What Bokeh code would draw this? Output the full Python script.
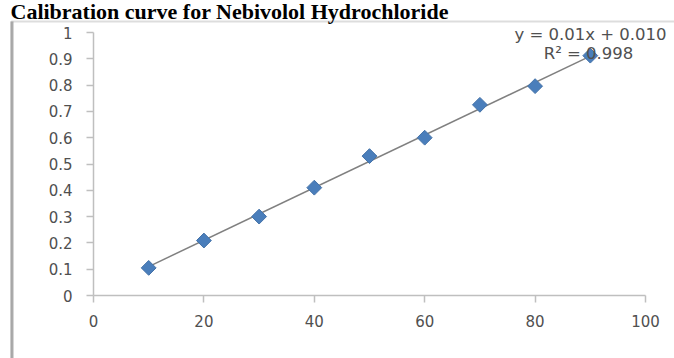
import numpy as np
from bokeh.plotting import figure
from bokeh.models import Range1d, FixedTicker, Label, BoxAnnotation, ColumnDataSource
from bokeh.embed import file_html
from bokeh.resources import INLINE

# ---- data ----
concentration = [10, 20, 30, 40, 50, 60, 70, 80, 90]
absorbance = [0.105, 0.209, 0.30, 0.41, 0.53, 0.60, 0.725, 0.796, 0.912]
trend_slope = 0.01
trend_intercept = 0.010
equation_text = "y = 0.01x + 0.010"
r2_text = "R\u00b2 = 0.998"
title_text = "Calibration curve for Nebivolol Hydrochloride"
x_ticks = [0, 20, 40, 60, 80, 100]
y_ticks = [0, 0.1, 0.2, 0.3, 0.4, 0.5, 0.6, 0.7, 0.8, 0.9, 1.0]
y_tick_labels = ["0", "0.1", "0.2", "0.3", "0.4", "0.5", "0.6", "0.7", "0.8", "0.9", "1"]

# ---- layout (pixels) ----
W, H = 674, 358
PX_X0, PX_X100 = 93.0, 645.0     # pixel columns of x = 0 and x = 100
PX_Y0, PX_Y1 = 295.0, 32.0       # pixel rows of y = 0 and y = 1
sx = (PX_X100 - PX_X0) / 100.0
sy = (PX_Y0 - PX_Y1) / 1.0

p = figure(width=W, height=H, output_backend="svg", toolbar_location=None,
           x_range=Range1d(-PX_X0 / sx, (W - PX_X0) / sx),
           y_range=Range1d(-(H - PX_Y0) / sy, 1 + PX_Y1 / sy),
           min_border=0, min_border_left=0, min_border_right=0,
           min_border_top=0, min_border_bottom=0)
p.background_fill_color = "white"
p.border_fill_color = "white"
p.outline_line_color = None
p.xgrid.grid_line_color = None
p.ygrid.grid_line_color = None

axis_col = "#bfbfbf"
label_col = "#505050"
for ax in (p.xaxis[0], p.yaxis[0]):
    ax.fixed_location = 0
    ax.axis_line_color = axis_col
    ax.axis_line_width = 1.5
    ax.major_tick_line_color = axis_col
    ax.major_tick_line_width = 1.5
    ax.major_tick_in = 0
    ax.major_tick_out = 7
    ax.minor_tick_line_color = None
    ax.major_label_text_font = "DejaVu Sans"
    ax.major_label_text_font_size = "15px"
    ax.major_label_text_color = label_col

p.xaxis[0].bounds = (0, 100)
p.yaxis[0].bounds = (0, 1)
p.xaxis[0].major_label_standoff = 12
p.yaxis[0].major_label_standoff = 14
p.xaxis[0].ticker = FixedTicker(ticks=x_ticks)
p.yaxis[0].ticker = FixedTicker(ticks=y_ticks)
p.yaxis[0].major_label_overrides = {t: l for t, l in zip(y_ticks, y_tick_labels)}
p.xaxis[0].major_label_overrides = {t: str(t) for t in x_ticks}

# chart box border (screen units measured from the frame's bottom-left)
BOX_TOP = 21
box = BoxAnnotation(left=11, right=W + 40, bottom=-40, top=H - BOX_TOP,
                    left_units="screen", right_units="screen",
                    bottom_units="screen", top_units="screen",
                    fill_color=None, line_color="#8f8f8f", line_width=2, level="underlay")
p.add_layout(box)
left_edge = BoxAnnotation(left=10, right=13, bottom=-40, top=H - BOX_TOP,
                          left_units="screen", right_units="screen",
                          bottom_units="screen", top_units="screen",
                          fill_color="#9a9a9a", fill_alpha=0.8, line_color=None, level="underlay")
p.add_layout(left_edge)

# trendline
xs = np.array([min(concentration), max(concentration)], dtype=float)
p.line(xs, trend_slope * xs + trend_intercept, line_color="#808080", line_width=1.5)

# data points
src = ColumnDataSource(dict(x=concentration, y=absorbance))
p.scatter("x", "y", source=src, marker="square", size=10.5, angle=np.pi / 4,
          fill_color="#4a7ebb", line_color="#4472a8", line_width=1)

# equation labels
p.add_layout(Label(x=590, y=H - 34, x_units="screen", y_units="screen",
                   text=equation_text, text_font="DejaVu Sans", text_font_size="16.5px",
                   text_color=label_col, text_align="center", text_baseline="middle"))
p.add_layout(Label(x=588, y=H - 53, x_units="screen", y_units="screen",
                   text=r2_text, text_font="DejaVu Sans", text_font_size="16.5px",
                   text_color=label_col, text_align="center", text_baseline="middle"))

# title
p.add_layout(Label(x=10, y=H - 11, x_units="screen", y_units="screen",
                   text=title_text, text_font="Liberation Serif", text_font_size="22px",
                   text_font_style="bold", text_color="black",
                   text_align="left", text_baseline="alphabetic"))

open("out.html", "w").write(file_html(p, INLINE))
